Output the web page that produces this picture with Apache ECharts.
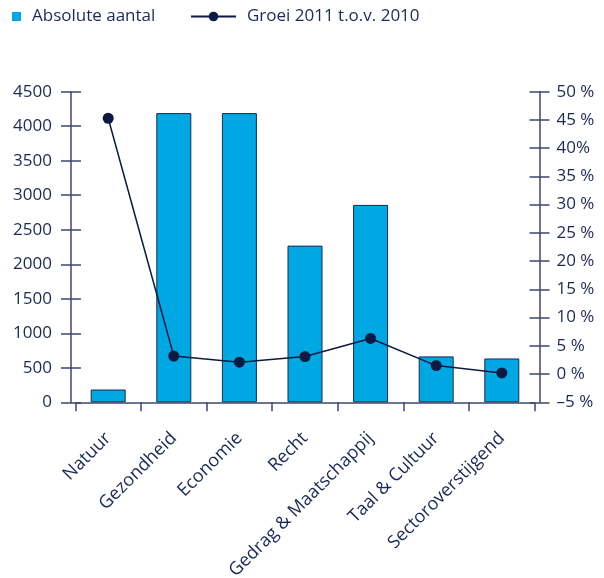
<!DOCTYPE html>
<html>
<head>
<meta charset="utf-8">
<script src="https://cdn.jsdelivr.net/npm/echarts@6/dist/echarts.min.js"></script>
<style>
html,body{margin:0;padding:0;background:#fff;}
#c{width:604px;height:578px;}
</style>
</head>
<body>
<div id="c"></div>
<script>
var categories = ['Natuur', 'Gezondheid', 'Economie', 'Recht', 'Gedrag & Maatschappij', 'Taal & Cultuur', 'Sectoroverstijgend'];
var absoluteValues = [185, 4190, 4190, 2270, 2860, 665, 635];
var growthValues = [45.3, 3.2, 2.1, 3.1, 6.3, 1.5, 0.2];
var rightTickLabels = {'-5': '\u20135 %', '0': '0 %', '5': '5 %', '10': '10 %', '15': '15 %', '20': '20 %', '25': '25 %', '30': '30 %', '35': '35 %', '40': '40%', '45': '45 %', '50': '50 %'};
var seriesNames = ['Absolute aantal', 'Groei 2011 t.o.v. 2010'];

var textColor = '#1b2858';
var axisColor = '#3c4670';
var fontFamily = 'Open Sans';

var chart = echarts.init(document.getElementById('c'));
chart.setOption({
  animation: false,
  textStyle: {fontFamily: fontFamily},
  legend: [
    {left: 12, top: 8, padding: 0, itemWidth: 9, itemHeight: 9, data: [{name: seriesNames[0], icon: 'rect'}],
     itemStyle: {borderWidth: 0},
     textStyle: {fontSize: 17, color: textColor, fontFamily: fontFamily, padding: [0, 0, 0, 6]}},
    {left: 190, top: 8, padding: 0, itemWidth: 45, itemHeight: 12, data: [seriesNames[1]],
     textStyle: {fontSize: 17, color: textColor, fontFamily: fontFamily, padding: [0, 0, 0, 6]}}
  ],
  grid: {left: 75.4, right: 69.4, top: 91.7, bottom: 175.7, containLabel: false, outerBoundsMode: 'none'},
  xAxis: {
    type: 'category',
    data: categories,
    axisLine: {lineStyle: {color: axisColor, width: 1.5}},
    axisTick: {show: true, length: 9, lineStyle: {color: axisColor, width: 1.5}},
    axisLabel: {rotate: 45, margin: 33, fontSize: 18, color: textColor, fontFamily: fontFamily, interval: 0}
  },
  yAxis: [
    {type: 'value', position: 'left', offset: 4.4, min: 0, max: 4500, interval: 500,
     splitLine: {show: false},
     axisLine: {show: true, lineStyle: {color: axisColor, width: 1.5}},
     axisTick: {show: true, length: 10, lineStyle: {color: axisColor, width: 1.5}},
     axisLabel: {fontSize: 17, color: textColor, margin: 19, fontFamily: fontFamily,
       formatter: function (v) { return String(v); }}},
    {type: 'value', position: 'right', offset: 4.9, min: -5, max: 50, interval: 5,
     splitLine: {show: false},
     axisLine: {show: true, lineStyle: {color: axisColor, width: 1.5}},
     axisTick: {show: true, length: 10, lineStyle: {color: axisColor, width: 1.5}},
     axisLabel: {fontSize: 17, color: textColor, margin: 17, fontFamily: fontFamily,
       formatter: function (v) { return rightTickLabels[String(v)] || (v + ' %'); }}},
    {type: 'value', position: 'left', offset: 4.4, min: 0, max: 4500, interval: 500,
     splitLine: {show: false}, axisLine: {show: false}, axisLabel: {show: false},
     axisTick: {show: true, inside: true, length: 10, lineStyle: {color: axisColor, width: 1.5}}},
    {type: 'value', position: 'right', offset: 4.9, min: -5, max: 50, interval: 5,
     splitLine: {show: false}, axisLine: {show: false}, axisLabel: {show: false},
     axisTick: {show: true, inside: true, length: 10, lineStyle: {color: axisColor, width: 1.5}}}
  ],
  series: [
    {name: seriesNames[0], type: 'bar', yAxisIndex: 0, data: absoluteValues, barWidth: 35,
     itemStyle: {color: '#00a8e3', borderColor: '#1a2a50', borderWidth: 1}},
    {name: seriesNames[1], type: 'line', yAxisIndex: 1, data: growthValues,
     symbol: 'circle', symbolSize: 11,
     lineStyle: {color: '#0b1a42', width: 1.5},
     itemStyle: {color: '#0b1a42'}}
  ]
});
</script>
</body>
</html>
